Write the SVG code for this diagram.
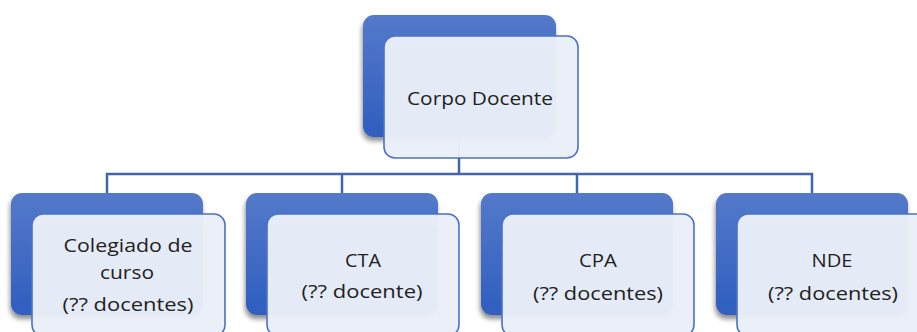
<svg xmlns="http://www.w3.org/2000/svg" width="917" height="332" viewBox="0 0 917 332">
  <defs>
    <linearGradient id="backFill" x1="0" y1="0" x2="0" y2="1">
      <stop offset="0" stop-color="#5479ca"/>
      <stop offset="1" stop-color="#2f5ec0"/>
    </linearGradient>
    <filter id="shadow" x="-10%" y="-10%" width="125%" height="130%">
      <feGaussianBlur in="SourceAlpha" stdDeviation="2.5"/>
      <feOffset dx="-1" dy="4" result="b"/>
      <feComponentTransfer><feFuncA type="linear" slope="0.45"/></feComponentTransfer>
      <feMerge><feMergeNode/><feMergeNode in="SourceGraphic"/></feMerge>
    </filter>
    <style>
      .back { fill: url(#backFill); filter: url(#shadow); }
      .front { fill: #eaeff8; fill-opacity: 0.97; stroke: #4a72c6; stroke-width: 1.6; }
      .link { fill: none; stroke: #4266ae; stroke-width: 2.5; }
      .label { font-family: "Open Sans", "Liberation Sans", sans-serif; font-size: 18px; fill: #222; text-anchor: middle; }
    </style>
  </defs>

  <g id="connectors">
    <path class="link" d="M459 137 V174"/>
    <path class="link" d="M107 193 V174 H812 V193"/>
    <path class="link" d="M342 174 V193"/>
    <path class="link" d="M577 174 V193"/>
  </g>

  <g id="corpo-docente">
    <rect class="back" x="363" y="15" width="193" height="122" rx="11"/>
    <rect class="front" x="384" y="36" width="194" height="122" rx="11"/>
    <text class="label" x="480" y="105" textLength="146" lengthAdjust="spacingAndGlyphs">Corpo Docente</text>
  </g>

  <g id="colegiado">
    <rect class="back" x="11" y="193" width="192" height="122" rx="11"/>
    <rect class="front" x="32" y="214" width="193" height="122" rx="11"/>
    <text class="label" x="128" y="252" textLength="129" lengthAdjust="spacingAndGlyphs">Colegiado de</text>
    <text class="label" x="127" y="279" textLength="54" lengthAdjust="spacingAndGlyphs">curso</text>
    <text class="label" x="128" y="311" textLength="131" lengthAdjust="spacingAndGlyphs">(?? docentes)</text>
  </g>

  <g id="cta">
    <rect class="back" x="246" y="193" width="192" height="122" rx="11"/>
    <rect class="front" x="267" y="214" width="192" height="122" rx="11"/>
    <text class="label" x="363" y="267" textLength="36" lengthAdjust="spacingAndGlyphs">CTA</text>
    <text class="label" x="362" y="298" textLength="121" lengthAdjust="spacingAndGlyphs">(?? docente)</text>
  </g>

  <g id="cpa">
    <rect class="back" x="481" y="193" width="192" height="122" rx="11"/>
    <rect class="front" x="502" y="214" width="192" height="122" rx="11"/>
    <text class="label" x="598" y="267" textLength="38" lengthAdjust="spacingAndGlyphs">CPA</text>
    <text class="label" x="598" y="300" textLength="130" lengthAdjust="spacingAndGlyphs">(?? docentes)</text>
  </g>

  <g id="nde">
    <rect class="back" x="716" y="193" width="192" height="122" rx="11"/>
    <rect class="front" x="737" y="214" width="192" height="122" rx="11"/>
    <text class="label" x="832" y="267" textLength="41" lengthAdjust="spacingAndGlyphs">NDE</text>
    <text class="label" x="833" y="300" textLength="130" lengthAdjust="spacingAndGlyphs">(?? docentes)</text>
  </g>
</svg>
